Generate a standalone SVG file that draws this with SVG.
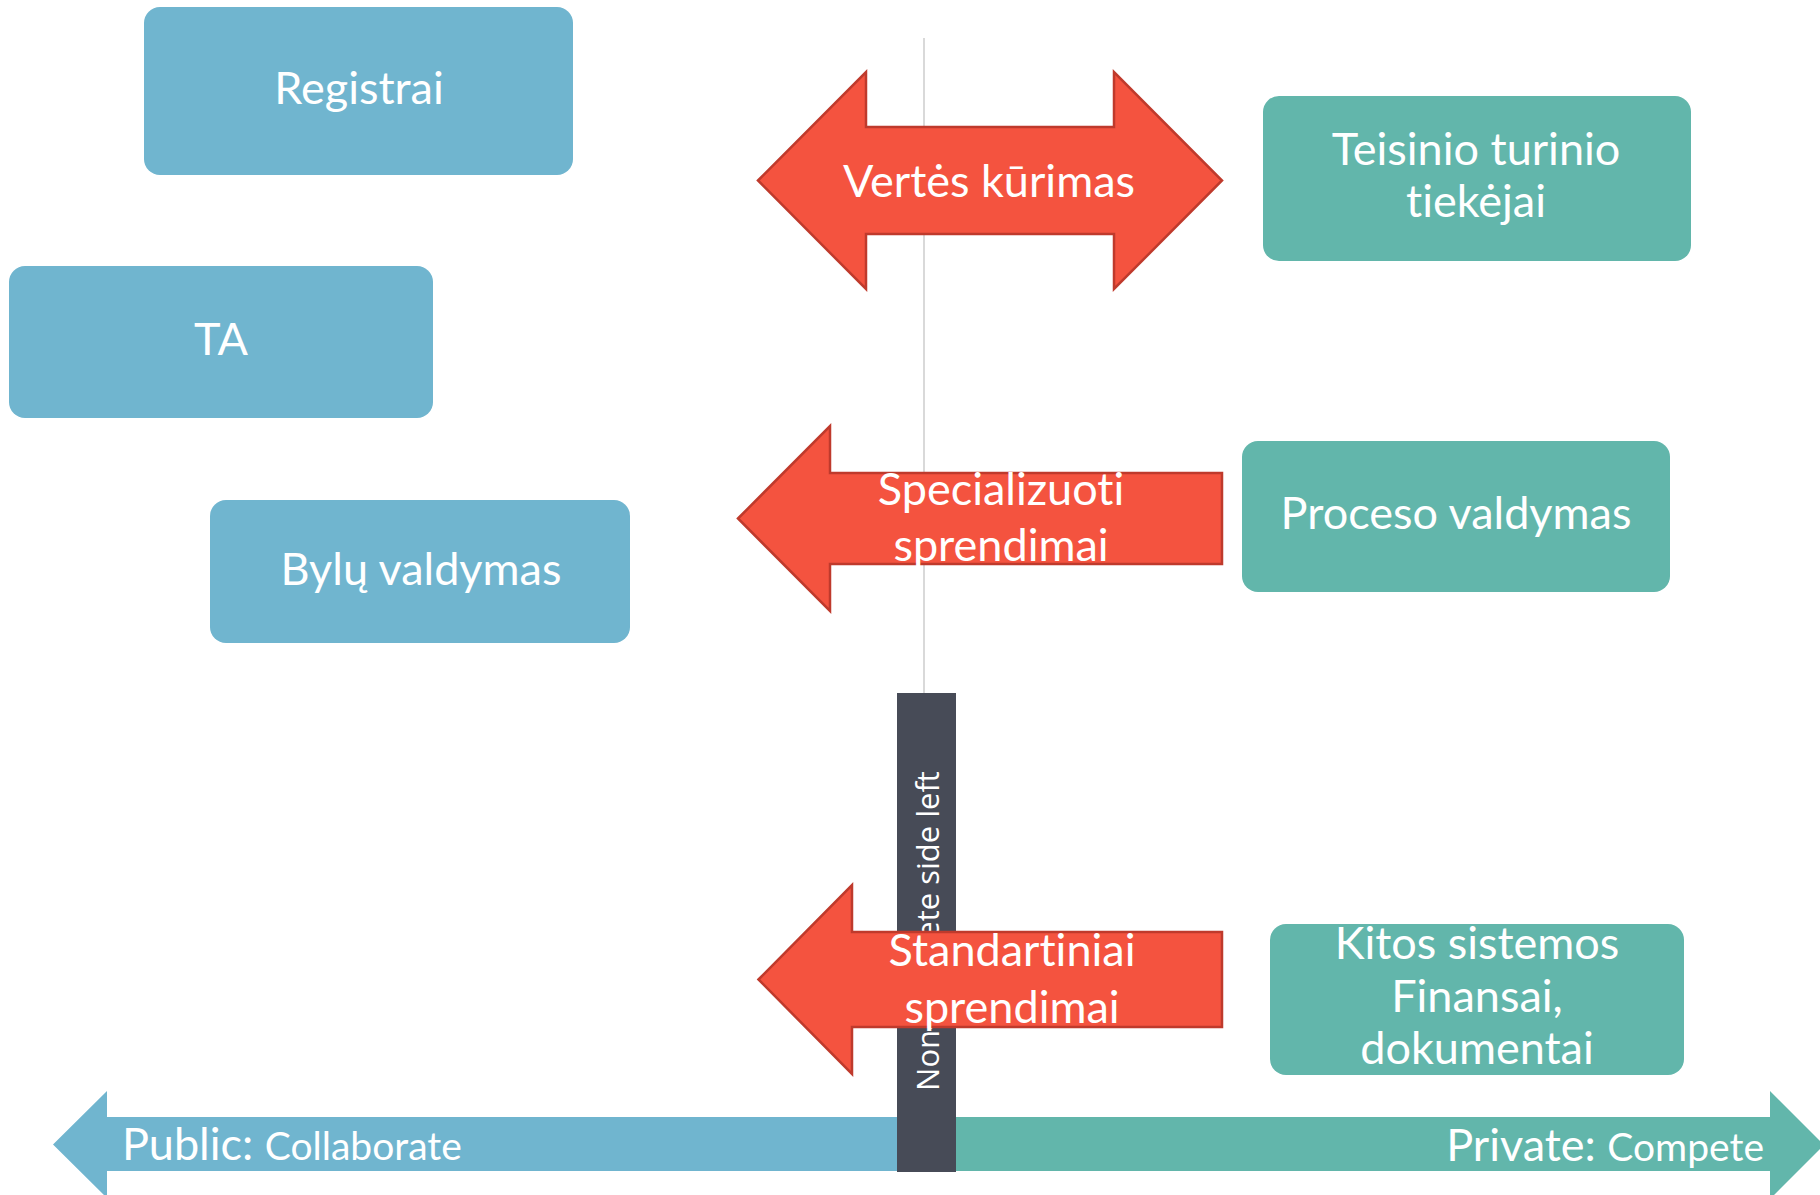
<svg xmlns="http://www.w3.org/2000/svg" width="1820" height="1195" viewBox="0 0 1820 1195">
<style>
.blue{fill:#70B5CF}
.teal{fill:#62B6AB}
.red{fill:#F4533F;stroke:#BF3A2C;stroke-width:2.5}
.lbl{font-family:Lato,"Open Sans",sans-serif;font-size:45px;fill:#fff;text-anchor:middle;font-variant-ligatures:none;font-feature-settings:"liga" 0}
.small{font-size:39px}
</style>
<rect width="1820" height="1195" fill="#fff"/>
<g id="axis">
<line x1="924" y1="38" x2="924" y2="694" stroke="#d9d9d9" stroke-width="2"/>
</g>
<g id="public-arrow">
<path class="blue" d="M53,1144.5 L107,1091 L107,1117 L900,1117 L900,1171 L107,1171 L107,1198 Z"/>
<text x="122" y="1160" class="lbl" style="text-anchor:start">Public: <tspan class="small">Collaborate</tspan></text>
</g>
<g id="private-arrow">
<path class="teal" d="M953,1117 L1770,1117 L1770,1091 L1824,1145 L1770,1199 L1770,1171 L953,1171 Z"/>
<text x="1764" y="1161" class="lbl" style="text-anchor:end">Private: <tspan class="small">Compete</tspan></text>
</g>
<g id="divider">
<rect x="897" y="693" width="59" height="479" fill="#474B57"/>
<text transform="translate(939,931) rotate(-90)" font-family="'Open Sans',sans-serif" font-size="31" fill="#fff" text-anchor="middle">Non-compete side left</text>
</g>
<g id="registrai">
<rect class="blue" x="144" y="7" width="429" height="168" rx="16"/>
<text class="lbl" x="359" y="104">Registrai</text>
</g>
<g id="ta">
<rect class="blue" x="9" y="266" width="424" height="152" rx="16"/>
<text class="lbl" x="221" y="355">TA</text>
</g>
<g id="bylu">
<rect class="blue" x="210" y="500" width="420" height="143" rx="16"/>
<text class="lbl" x="421" y="585">Bylų valdymas</text>
</g>
<g id="teisinio">
<rect class="teal" x="1263" y="96" width="428" height="165" rx="16"/>
<text class="lbl" x="1476" y="165">Teisinio turinio</text>
<text class="lbl" x="1476" y="217">tiekėjai</text>
</g>
<g id="proceso">
<rect class="teal" x="1242" y="441" width="428" height="151" rx="16"/>
<text class="lbl" x="1456" y="529">Proceso valdymas</text>
</g>
<g id="kitos">
<rect class="teal" x="1270" y="924" width="414" height="151" rx="16"/>
<text class="lbl" x="1477" y="959">Kitos sistemos</text>
<text class="lbl" x="1477" y="1012">Finansai,</text>
<text class="lbl" x="1477" y="1064">dokumentai</text>
</g>
<g id="connectors">
<g id="verte">
<path class="red" d="M758,180.5 L866,72 L866,127 L1114,127 L1114,72 L1222,180.5 L1114,289 L1114,234 L866,234 L866,289 Z"/>
<text class="lbl" x="989" y="197">Vertės kūrimas</text>
</g>
<g id="specializuoti">
<path class="red" d="M738,518.5 L830,426 L830,473 L1222,473 L1222,564 L830,564 L830,611 Z"/>
<text class="lbl" x="1001" y="505">Specializuoti</text>
<text class="lbl" x="1001" y="561">sprendimai</text>
</g>
<g id="standartiniai">
<path class="red" d="M758.5,979.5 L852,885 L852,932 L1222,932 L1222,1027 L852,1027 L852,1074 Z"/>
<text class="lbl" x="1012" y="966">Standartiniai</text>
<text class="lbl" x="1012" y="1023">sprendimai</text>
</g>
</g>
</svg>
